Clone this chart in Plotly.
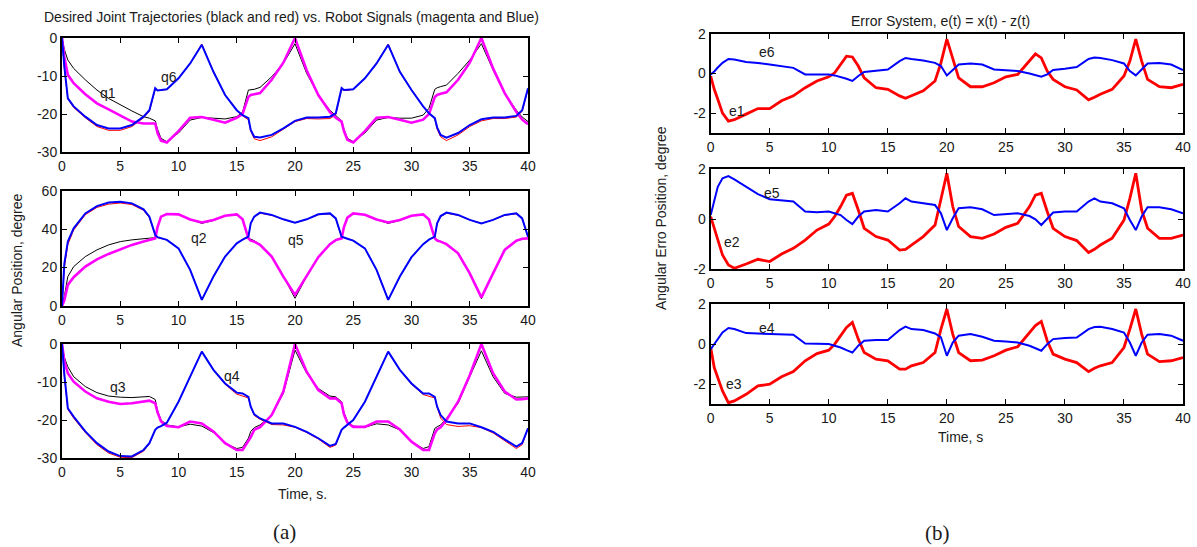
import plotly.graph_objects as go

# ---------------- data: panel (a) ----------------
T_Q = [0, 0.2, 0.5, 1, 2, 3, 4, 5, 6, 7, 7.5, 8, 8.2, 8.5, 9, 10, 11, 12, 13, 14, 15, 15.5, 16, 16.2,
       16.5, 17, 18, 19, 20, 21, 22, 23, 23.5, 24, 24.2, 24.5, 25, 26, 27, 28, 29, 30, 31, 31.5, 32, 32.2,
       32.5, 33, 34, 35, 36, 37, 38, 39, 39.5, 40]

q1_desired = [0, -3, -5.8, -8, -11, -13.7, -15.9, -17.6, -19.2, -20.7, -21.1, -21.8, -24, -26.4, -27.3, -25,
              -21.6, -20.9, -21.1, -21.3, -20.7, -19.5, -13.7, -13.6, -13.5, -13, -10.2, -6.7, -1.5, -9.3, -15,
              -19, -20.5, -21.8, -24, -26.4, -27.3, -25, -21.6, -20.9, -21.1, -21.1, -20.3, -18.5, -13.5, -13.1,
              -12.8, -12.4, -9.3, -5.8, -1.5, -8.4, -14.6, -19, -20.8, -22]
q1_robot = [0, -5, -9.7, -11.9, -14.8, -17.2, -18.8, -20.3, -22, -22.5, -22.5, -22.5, -25, -27, -27.5, -24.5,
            -21, -20.8, -21.5, -22.3, -21, -20, -15.5, -15, -14.8, -14.5, -11, -6.5, 0, -8.5, -15,
            -19.5, -21, -22, -24.5, -26.8, -27.5, -24.5, -21, -20.8, -21.5, -22.3, -21.5, -20, -15.5, -15,
            -14.7, -14.3, -11, -6.5, 0, -8, -14.5, -19.5, -21.5, -22.7]
q6_desired = [0, -8, -16, -18.3, -21, -23.3, -24.3, -24.3, -23.3, -21, -19.3, -13.5, -13.8, -13.8, -13.5, -10.6,
              -6.7, -1.6, -8.9, -15, -19, -20.5, -21.5, -24.5, -26.5, -27, -26, -24, -22, -21.2, -21.3,
              -21.2, -20.2, -13.5, -13.8, -13.8, -13.5, -10.6, -6.7, -1.6, -8.9, -13.7, -18, -19.8, -21.3, -24,
              -26, -27, -25.5, -23.3, -21.8, -21.2, -21.2, -20.8, -19.3, -13.5]
q6_robot = [0, -7.5, -15.9, -18, -20.7, -22.9, -23.8, -23.8, -22.9, -20.7, -19, -13.2, -13.8, -13.7, -13.5, -10.6,
            -6.7, -1.8, -8.9, -15, -19, -20.3, -21.1, -24.2, -26, -26.2, -25.5, -23.8, -21.8, -20.9, -20.9,
            -20.7, -19.8, -13.2, -13.7, -13.6, -13.5, -10.6, -6.7, -1.8, -8.9, -13.7, -18, -19.8, -21.1, -23.5,
            -25.5, -26.2, -25, -22.9, -21.4, -20.9, -20.9, -20.5, -19, -13.2]

q2_desired = [0, 5, 15.3, 20.5, 25.7, 29.2, 31.8, 33.5, 34.4, 35.2, 35.3, 35.5, 41, 46.5, 47.9, 47.7,
              45, 43, 44.5, 47, 47.7, 45, 35.5, 34.8, 34, 32, 26, 15.5, 4, 15.3, 25.4,
              32.2, 34.5, 35.5, 41, 46, 47.9, 47.5, 45, 43, 44.5, 47, 47.7, 45, 35.5, 34.5,
              33.5, 32.2, 27.4, 17, 3.8, 17, 29.2, 34, 35, 35.2]
q2_robot = [0, 3, 11, 15, 20.5, 24.3, 27.1, 29.5, 31.8, 33.5, 34.3, 35.2, 41, 46.5, 47.9, 47.7,
            45, 43.5, 44.8, 47, 47.7, 45.1, 35.2, 34, 33.5, 31.8, 25.7, 15.3, 5.8, 15.3, 25.4,
            32.2, 34.3, 35.2, 41, 46, 48.2, 47.5, 45, 43.5, 44.8, 47, 47.7, 45, 35.2, 34,
            33.5, 32.2, 27.4, 17, 4.5, 17, 29.2, 34, 35, 35.2]
q5_desired = [0, 20, 32, 39.5, 47.5, 51.3, 53, 53.6, 52.8, 49.8, 46, 37, 35.5, 35, 34.4, 30,
              18.8, 3.2, 15.3, 25.7, 32.6, 34.5, 36, 43, 46.5, 48.3, 47.2, 45, 43.3, 45, 47.5,
              48, 45.5, 36, 35.5, 35, 34, 30, 18.8, 3.2, 15.3, 25.4, 32.2, 34.5, 36, 43,
              46.5, 48.3, 47.2, 44.8, 43, 44.8, 47.2, 48, 45.5, 36]
q5_robot = [0, 22, 33.5, 40.4, 48.2, 52, 53.8, 54.3, 53.4, 50.3, 46.5, 37, 35.8, 35.2, 34.4, 30,
            18.8, 3.2, 15.3, 25.7, 32.6, 34.5, 36.1, 43, 46.5, 48.6, 47.4, 45.1, 43.4, 45.1, 47.7,
            48.2, 45.6, 36, 35.5, 35, 34, 30, 18.8, 3.2, 15.3, 25.4, 32.2, 34.5, 36.1, 43,
            46.8, 48.6, 47.4, 44.8, 43, 44.8, 47.4, 48.2, 45.6, 36]

q3_desired = [0, -3.5, -6, -8.6, -11.2, -12.8, -13.7, -14, -14.1, -14, -13.8, -14.6, -17.5, -20, -21.3, -21.8,
              -21.1, -21.6, -23.3, -26.1, -27.5, -27.2, -24.8, -23, -22, -21.3, -18.7, -13, -1.6, -7.7, -11.7,
              -13.7, -13.9, -15.2, -18, -20.4, -21.6, -21.9, -21, -21.3, -22.6, -25.7, -27.5, -27, -22.2, -21.8,
              -21.3, -19.6, -15.6, -8.6, -1.8, -8.6, -13, -14, -14, -13.9]
q3_robot = [0, -4.5, -7.7, -9.9, -12.5, -14.3, -15.2, -15.8, -15.6, -15.2, -14.9, -15.6, -18, -20.4, -21.6, -21.9,
            -20.4, -20.9, -23, -26.1, -27.9, -27.9, -25.7, -24.5, -22.6, -21.9, -18.7, -12.5, 0, -7.3, -12.1,
            -14.3, -14.3, -15.6, -18.5, -20.7, -21.8, -21.8, -20.4, -20.4, -22.5, -25.7, -27.9, -27.9, -23.5, -22.5,
            -21.9, -20, -15.2, -8.2, 0, -7.7, -12.5, -14.6, -14.5, -14.3]
q4_desired = [0, -8.5, -17.2, -19.5, -23.3, -26.5, -28.7, -29.8, -29.9, -28.2, -26.3, -22.6, -22, -21.6, -20.7, -15.2,
              -8.6, -2, -6.8, -10.6, -13.2, -13.7, -14.2, -16.5, -18.8, -19.8, -21.2, -21.3, -21.9, -23.3, -25,
              -27.2, -26.6, -22.6, -22, -21.3, -20, -15.2, -8.6, -2, -6.8, -10.6, -13.3, -13.7, -14.2, -16.5,
              -19.5, -21.2, -21.7, -21.5, -22, -23.4, -25.5, -27.5, -26.5, -22.2]
q4_robot = [0, -8, -16.9, -19.1, -23, -26.1, -28.3, -29.5, -29.6, -27.9, -26.1, -22.6, -22, -21.6, -20.7, -15.2,
            -8.6, -2, -6.8, -10.4, -12.8, -13, -13.9, -16.5, -18.5, -19.6, -20.9, -20.9, -21.8, -23.1, -24.8,
            -26.8, -26.3, -22.6, -22, -21.3, -20, -15.2, -8.6, -2, -6.8, -10.4, -13, -13, -13.9, -16.5,
            -18.7, -20.4, -20.9, -20.9, -21.9, -23.1, -25.1, -27, -26.1, -22.2]

# ---------------- data: panel (b) ----------------
T_E = [0, 0.3, 0.6, 1, 1.5, 2, 3, 4, 5, 6, 7, 8, 9, 10, 10.5, 11, 11.5, 12, 12.5, 13, 14, 15, 16, 16.5, 17,
       18, 19, 19.5, 20, 20.5, 21, 22, 23, 24, 25, 26, 27, 27.5, 28, 28.5, 29, 30, 31, 32, 32.5, 33, 34, 35,
       35.5, 36, 36.5, 37, 38, 39, 40]

e1 = [-0.13, -0.8, -1.3, -2.0, -2.4, -2.33, -2.05, -1.77, -1.77, -1.38, -1.13, -0.72, -0.38, -0.17, 0.03, 0.45,
      0.87, 0.83, 0.37, -0.22, -0.72, -0.8, -1.13, -1.25, -1.13, -0.88, -0.38, 0.53, 1.73, 0.7, -0.22, -0.67,
      -0.67, -0.47, -0.17, -0.05, 0.62, 0.98, 0.78, 0.12, -0.3, -0.67, -0.83, -1.33, -1.2, -1.05, -0.8, -0.13,
      0.62, 1.73, 0.62, -0.3, -0.67, -0.72, -0.55]
e6 = [-0.05, 0.1, 0.3, 0.53, 0.73, 0.7, 0.57, 0.53, 0.45, 0.37, 0.28, -0.05, -0.05, -0.05, -0.1, -0.17,
      -0.27, -0.38, -0.13, 0.07, 0.15, 0.2, 0.62, 0.78, 0.73, 0.65, 0.53, 0.37, -0.1, 0.17, 0.45, 0.5,
      0.45, 0.2, 0.17, 0.12, 0.0, -0.08, -0.17, -0.05, 0.17, 0.23, 0.32, 0.73, 0.8, 0.78, 0.67, 0.5,
      0.12, -0.1, 0.2, 0.5, 0.53, 0.45, 0.17]
e5 = [0.17, 0.77, 1.3, 1.64, 1.73, 1.6, 1.3, 1.01, 0.8, 0.75, 0.71, 0.31, 0.28, 0.31, 0.25, 0.17,
      -0.03, -0.19, 0.11, 0.31, 0.37, 0.31, 0.64, 0.84, 0.71, 0.64, 0.57, 0.24, -0.43, 0.04, 0.44, 0.48,
      0.4, 0.17, 0.2, 0.24, 0.13, 0.0, -0.23, 0.04, 0.27, 0.31, 0.31, 0.71, 0.84, 0.71, 0.64, 0.44,
      -0.03, -0.43, 0.11, 0.48, 0.48, 0.4, 0.24]
e2 = [0.11, -0.36, -0.83, -1.43, -1.83, -1.96, -1.79, -1.6, -1.69, -1.39, -1.16, -0.83, -0.43, -0.19, 0.11, 0.51,
      0.97, 1.04, 0.37, -0.36, -0.69, -0.83, -1.23, -1.2, -1.03, -0.69, -0.23, 0.77, 1.84, 0.51, -0.29, -0.69,
      -0.76, -0.59, -0.32, -0.16, 0.51, 0.97, 1.04, 0.31, -0.36, -0.69, -0.85, -1.33, -1.2, -1.03, -0.76, -0.03,
      0.84, 1.84, 0.37, -0.36, -0.76, -0.76, -0.63]
e4 = [-0.25, 0.0, 0.25, 0.58, 0.8, 0.75, 0.55, 0.53, 0.53, 0.52, 0.47, 0.03, 0.0, 0.0, -0.08, -0.17,
      -0.3, -0.42, -0.08, 0.17, 0.2, 0.2, 0.7, 0.87, 0.75, 0.7, 0.53, 0.33, -0.58, 0.08, 0.42, 0.5,
      0.37, 0.17, 0.13, 0.08, -0.08, -0.2, -0.33, 0.0, 0.25, 0.3, 0.33, 0.75, 0.85, 0.87, 0.75, 0.58,
      0.08, -0.58, 0.08, 0.47, 0.5, 0.42, 0.17]
e3 = [-0.17, -1.17, -1.67, -2.33, -2.92, -2.83, -2.5, -2.08, -2.0, -1.63, -1.37, -0.83, -0.47, -0.3, 0.0, 0.42,
      0.83, 1.08, 0.25, -0.42, -0.75, -0.83, -1.25, -1.25, -1.08, -0.92, -0.42, 0.75, 1.75, 0.5, -0.42, -0.83,
      -0.8, -0.58, -0.3, -0.13, 0.58, 0.92, 1.13, 0.17, -0.5, -0.75, -0.92, -1.37, -1.2, -1.08, -0.92, -0.17,
      0.75, 1.75, 0.5, -0.5, -0.87, -0.83, -0.67]

X_TICKS = [0, 5, 10, 15, 20, 25, 30, 35, 40]
Y_TICKS_Q13 = [-30, -20, -10, 0]
Y_TICKS_Q2 = [0, 20, 40, 60]
Y_TICKS_E = [-2, 0, 2]

W, H = 1197, 547
FONT = "Arial, Liberation Sans, sans-serif"
BLACK, RED, MAGENTA, BLUE = "#000000", "#ff0000", "#ff00ff", "#0000ff"

fig = go.Figure()


def add_line(ax, x, y, color, width):
    fig.add_trace(go.Scatter(x=x, y=y, mode="lines", xaxis="x" + ax, yaxis="y" + ax,
                             line=dict(color=color, width=width), showlegend=False, hoverinfo="skip"))


# panel (a)
for ax, pairs in [("", [(q1_desired, BLACK, 1), (q6_desired, RED, 1), (q1_robot, MAGENTA, 2.6), (q6_robot, BLUE, 2)]),
                  ("2", [(q2_desired, BLACK, 1), (q5_desired, RED, 1), (q2_robot, MAGENTA, 2.6), (q5_robot, BLUE, 2)]),
                  ("3", [(q3_desired, BLACK, 1), (q4_desired, RED, 1), (q3_robot, MAGENTA, 2.6), (q4_robot, BLUE, 2)])]:
    for ys, c, w in pairs:
        add_line(ax, T_Q, ys, c, w)

# panel (b)
for ax, pairs in [("4", [(e1, RED, 2.8), (e6, BLUE, 2)]),
                  ("5", [(e2, RED, 2.8), (e5, BLUE, 2)]),
                  ("6", [(e3, RED, 2.8), (e4, BLUE, 2)])]:
    for ys, c, w in pairs:
        add_line(ax, T_E, ys, c, w)

LX = [62 / W, 528 / W]
RX = [710.7 / W, 1183 / W]


def ydom(top, bottom):
    return [1 - bottom / H, 1 - top / H]


axis_common = dict(showline=True, linecolor="black", linewidth=2, mirror="ticks", ticks="inside",
                   ticklen=5, tickwidth=1.3, tickcolor="black", showgrid=False, zeroline=False,
                   automargin=False,
                   tickfont=dict(family=FONT, size=14, color="#1a1a1a"))


def labs(vals):
    return [str(v) for v in vals]


specs = [
    ("", LX, ydom(38, 152), [-30, 0], Y_TICKS_Q13),
    ("2", LX, ydom(190.7, 306), [0, 60], Y_TICKS_Q2),
    ("3", LX, ydom(344, 458), [-30, 0], Y_TICKS_Q13),
    ("4", RX, ydom(33.7, 133), [-3, 2], Y_TICKS_E),
    ("5", RX, ydom(169.3, 269.3), [-2, 2], Y_TICKS_E),
    ("6", RX, ydom(304, 404.3), [-3, 2], Y_TICKS_E),
]
layout = dict(width=W, height=H, margin=dict(l=0, r=0, t=0, b=0, autoexpand=False), paper_bgcolor="white",
              plot_bgcolor="white", showlegend=False)
for ax, xd, yd, yr, yt in specs:
    layout["xaxis" + ax] = dict(domain=xd, range=[0, 40], tickvals=X_TICKS, ticktext=labs(X_TICKS),
                                anchor="y" + ax, **axis_common)
    layout["yaxis" + ax] = dict(domain=yd, range=yr, tickvals=yt, ticktext=labs(yt),
                                anchor="x" + ax, **axis_common)
fig.update_layout(**layout)

# curve labels
labels = [("", 3.95, -14.5, "q1"), ("", 9.2, -10.3, "q6"),
          ("2", 11.8, 35.4, "q2"), ("2", 20.1, 34.4, "q5"),
          ("3", 4.8, -11.3, "q3"), ("3", 14.6, -8.4, "q4"),
          ("4", 4.77, 1.1, "e6"), ("4", 2.2, -1.9, "e1"),
          ("5", 5.2, 1.05, "e5"), ("5", 1.8, -0.9, "e2"),
          ("6", 4.8, 0.8, "e4"), ("6", 1.97, -2.0, "e3")]
for ax, x, y, txt in labels:
    fig.add_annotation(x=x, y=y, xref="x" + ax, yref="y" + ax, text=txt, showarrow=False,
                       font=dict(family=FONT, size=14, color="#1a1a1a"))


def paper_text(px, py, txt, size, family=FONT, angle=0):
    fig.add_annotation(x=px / W, y=1 - py / H, xref="paper", yref="paper", text=txt, showarrow=False,
                       textangle=angle, font=dict(family=family, size=size, color="#1a1a1a"),
                       xanchor="center", yanchor="middle")


paper_text(291, 17, "Desired Joint Trajectories (black and red) vs. Robot Signals (magenta and Blue)", 14)
paper_text(940, 21, "Error System, e(t) = x(t) - z(t)", 14)
paper_text(17, 270, "Angular Position, degree", 14, angle=-90)
paper_text(661, 218, "Angular Erro Position, degree", 14, angle=-90)
paper_text(302, 494, "Time, s.", 14)
paper_text(960, 437, "Time, s", 14)
paper_text(284, 532, "(a)", 21, family="Times New Roman, Liberation Serif, serif")
paper_text(937, 533, "(b)", 21, family="Times New Roman, Liberation Serif, serif")

fig.write_html("out.html", config={"displayModeBar": False},
               post_script="document.body.style.margin='0';document.body.style.overflow='hidden';")
